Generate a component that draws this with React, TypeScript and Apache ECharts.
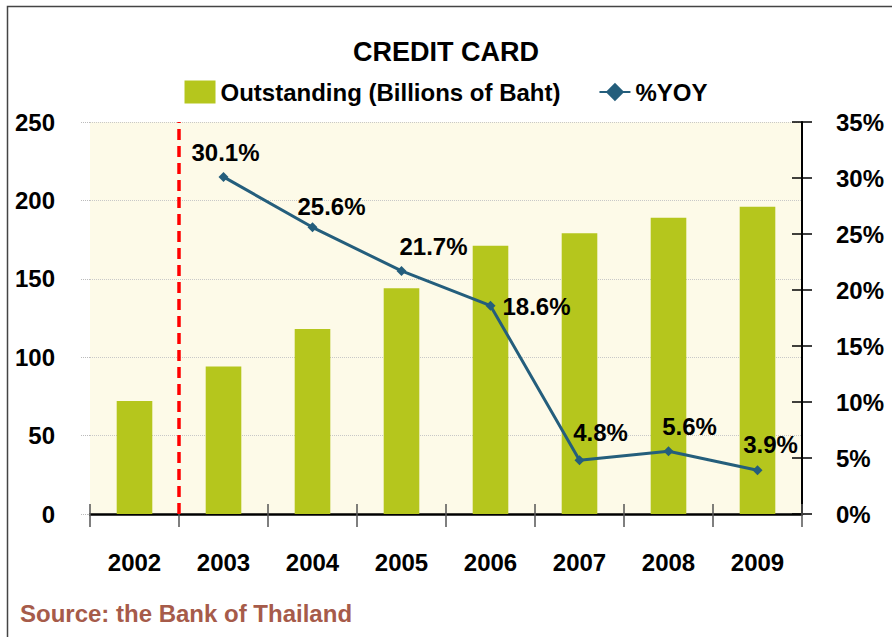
import React, { useEffect, useRef } from "react";
import * as echarts from "echarts";

const years = ["2002", "2003", "2004", "2005", "2006", "2007", "2008", "2009"];
const outstanding = [72, 94, 118, 144, 171, 179, 189, 196];
const yoy: (number | null)[] = [null, 30.1, 25.6, 21.7, 18.6, 4.8, 5.6, 3.9];
const yoyLabelOffsets: [number, number][] = [
  [0, 0], [2, -2], [19, 1], [32, -2], [46, 23], [21, -6], [21, -3], [13, -4],
];
const dividerX = [1, 1];
const dividerY = [0, 250];

const FONT = "Liberation Sans, Arial, sans-serif";

export default function App() {
  const ref = useRef<HTMLDivElement>(null);
  useEffect(() => {
    document.body.style.margin = "0";
    const chart = echarts.init(ref.current!, null, { renderer: "svg" });
    const txt = { fontFamily: FONT, fontWeight: "bold" as const, fontSize: 24, color: "#000" };
    chart.setOption({
      animation: false,
      backgroundColor: "#fff",
      title: {
        text: "CREDIT CARD",
        left: "center",
        top: 33,
        textStyle: { ...txt, fontSize: 27 },
      },
      legend: {
        top: 75,
        left: "center",
        itemWidth: 31,
        itemHeight: 23,
        itemGap: 38,
        textStyle: { ...txt },
        data: [
          { name: "Outstanding (Billions of Baht)", icon: "rect" },
          { name: "%YOY" },
        ],
      },
      graphic: [
        {
          type: "rect",
          shape: { x: 7.5, y: 6.5, width: 1000, height: 800 },
          style: { fill: "none", stroke: "#444", lineWidth: 1.5 },
          silent: true,
        },
        {
          type: "text",
          left: 20,
          top: 601,
          style: { text: "Source: the Bank of Thailand", fill: "#a65b4a", font: `bold 24px ${FONT}` },
        },
      ],
      grid: {
        left: 90, right: 90, top: 122, bottom: 123,
        show: true, backgroundColor: "#fdfae8", borderWidth: 0,
      },
      xAxis: [
        {
          type: "category",
          data: years,
          axisLine: { lineStyle: { color: "#000", width: 2.5 } },
          axisTick: { show: true, length: 13, lineStyle: { color: "#555", width: 1.5 } },
          axisLabel: { ...txt, margin: 36 },
        },
        {
          type: "value",
          min: 0,
          max: 8,
          show: false,
        },
        {
          type: "category",
          data: years,
          position: "bottom",
          axisLine: { show: false },
          axisTick: { show: true, inside: true, length: 10, lineStyle: { color: "#555", width: 1.5 } },
          axisLabel: { show: false },
        },
      ],
      yAxis: [
        {
          type: "value",
          min: 0,
          max: 250,
          interval: 50,
          axisLine: { show: false },
          axisTick: { show: true, length: 10, lineStyle: { color: "#bbb", type: "dotted" } },
          splitLine: { lineStyle: { color: "#c8c8c8", type: "dotted", width: 1 } },
          axisLabel: { ...txt, margin: 35 },
        },
        {
          type: "value",
          min: 0,
          max: 35,
          interval: 5,
          position: "right",
          axisLine: { show: true, lineStyle: { color: "#000", width: 2 } },
          axisTick: { show: true, length: 10, lineStyle: { color: "#000", width: 1.5 } },
          splitLine: { show: false },
          axisLabel: { ...txt, margin: 34, formatter: "{value}%" },
        },
        {
          type: "value",
          min: 0,
          max: 35,
          interval: 5,
          position: "right",
          axisLine: { show: false },
          axisTick: { show: true, inside: true, length: 10, lineStyle: { color: "#000", width: 1.5 } },
          splitLine: { show: false },
          axisLabel: { show: false },
        },
      ],
      series: [
        {
          name: "Outstanding (Billions of Baht)",
          type: "bar",
          data: outstanding,
          barWidth: "40%",
          itemStyle: { color: "#b5c61d" },
          z: 2,
        },
        {
          name: "divider",
          type: "line",
          xAxisIndex: 1,
          data: dividerX.map((x, i) => [x, dividerY[i]]),
          symbol: "none",
          lineStyle: { color: "#ff0000", width: 3.5, type: [11, 6] },
          z: 3,
          silent: true,
        },
        {
          name: "%YOY",
          type: "line",
          yAxisIndex: 1,
          data: yoy.map((v, i) => ({
            value: v,
            label: { offset: yoyLabelOffsets[i] },
          })),
          symbol: "diamond",
          symbolSize: 10,
          lineStyle: { color: "#245e7c", width: 3 },
          itemStyle: { color: "#245e7c" },
          label: {
            show: true,
            position: "top",
            ...txt,
            formatter: (p: any) => (p.value == null ? "" : `${p.value}%`),
          },
          z: 4,
        },
      ],
    });
    return () => chart.dispose();
  }, []);
  return (
    <div
      ref={ref}
      style={{ position: "fixed", left: 0, top: 0, width: 892, height: 637 }}
    />
  );
}
